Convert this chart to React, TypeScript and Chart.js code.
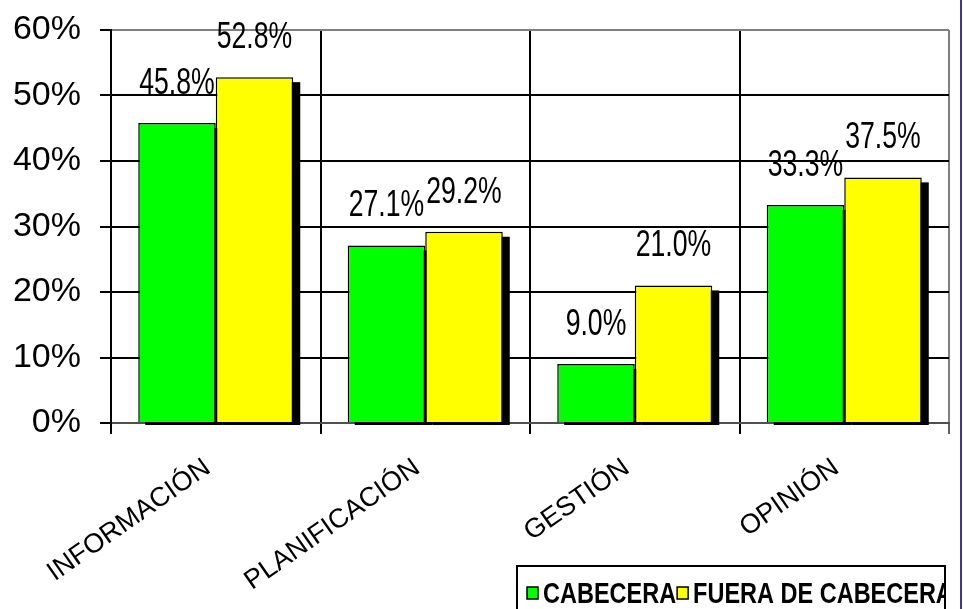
import React, { useEffect, useRef } from 'react';
import { Chart, registerables } from 'chart.js';

Chart.register(...registerables);

// ---- data ----
const categories = ['INFORMACIÓN', 'PLANIFICACIÓN', 'GESTIÓN', 'OPINIÓN'];
const seriesNames = ['CABECERA', 'FUERA DE CABECERA'];
const cabecera = [45.8, 27.1, 9.0, 33.3];
const fueraDeCabecera = [52.8, 29.2, 21.0, 37.5];
const yMin = 0;
const yMax = 60;
const yStep = 10;
const seriesColors = ['#00FF00', '#FFFF00'];

const shadowPlugin = {
  id: 'barShadow',
  beforeDatasetsDraw(chart: any) {
    const ctx = chart.ctx;
    ctx.save();
    ctx.fillStyle = '#000';
    chart.data.datasets.forEach((_ds: any, i: number) => {
      const meta = chart.getDatasetMeta(i);
      meta.data.forEach((bar: any) => {
        const p = bar.getProps(['x', 'y', 'base', 'width'], true);
        ctx.fillRect(p.x - p.width / 2 + 7, p.y + 5, p.width, p.base - p.y - 2);
      });
    });
    ctx.restore();
  },
};

const valueLabelPlugin = {
  id: 'valueLabels',
  afterDatasetsDraw(chart: any) {
    const ctx = chart.ctx;
    ctx.save();
    ctx.fillStyle = '#000';
    ctx.font = '37px "Liberation Sans", Arial, sans-serif';
    ctx.textAlign = 'center';
    ctx.textBaseline = 'alphabetic';
    chart.data.datasets.forEach((ds: any, i: number) => {
      const meta = chart.getDatasetMeta(i);
      meta.data.forEach((bar: any, j: number) => {
        const p = bar.getProps(['x', 'y'], true);
        ctx.save();
        ctx.translate(p.x, p.y - 29);
        ctx.scale(0.72, 1);
        ctx.fillText(Number(ds.data[j]).toFixed(1) + '%', 0, 0);
        ctx.restore();
      });
    });
    ctx.restore();
  },
};

const legendPlugin = {
  id: 'boxLegend',
  afterDraw(chart: any) {
    const ctx = chart.ctx;
    const left = 517;
    const top = 566;
    const right = 945;
    const bottom = 640;
    ctx.save();
    ctx.fillStyle = '#fff';
    ctx.fillRect(left, top, right - left, bottom - top);
    ctx.strokeStyle = '#000';
    ctx.lineWidth = 2;
    ctx.strokeRect(left, top, right - left, bottom - top);
    ctx.beginPath();
    ctx.rect(left + 1, top + 1, right - left - 2, bottom - top - 2);
    ctx.clip();
    ctx.font = 'bold 29px "Liberation Sans", Arial, sans-serif';
    ctx.textBaseline = 'alphabetic';
    ctx.textAlign = 'left';
    let x = 527;
    const sx = 0.81;
    chart.data.datasets.forEach((ds: any) => {
      ctx.fillStyle = ds.backgroundColor;
      ctx.fillRect(x, 587, 11, 12);
      ctx.strokeStyle = '#000';
      ctx.lineWidth = 1.5;
      ctx.strokeRect(x, 587, 11, 12);
      const tx = x + 16;
      ctx.save();
      ctx.translate(tx, 603);
      ctx.scale(sx, 1);
      ctx.fillStyle = '#000';
      ctx.fillText(ds.label, 0, 0);
      const w = ctx.measureText(ds.label).width * sx;
      ctx.restore();
      x = tx + w + 1;
    });
    ctx.restore();
    // right frame line
    ctx.save();
    ctx.fillStyle = '#3a3a96';
    ctx.fillRect(960, 0, 2, 609);
    ctx.restore();
  },
};

export default function App() {
  const canvasRef = useRef<HTMLCanvasElement | null>(null);

  useEffect(() => {
    if (!canvasRef.current) return;
    const chart = new Chart(canvasRef.current, {
      type: 'bar',
      data: {
        labels: categories,
        datasets: [
          {
            label: seriesNames[0],
            data: cabecera,
            backgroundColor: seriesColors[0],
            borderColor: '#000',
            borderWidth: 1.5,
            categoryPercentage: 0.74,
            barPercentage: 1.0,
          },
          {
            label: seriesNames[1],
            data: fueraDeCabecera,
            backgroundColor: seriesColors[1],
            borderColor: '#000',
            borderWidth: 1.5,
            categoryPercentage: 0.74,
            barPercentage: 1.0,
          },
        ],
      },
      options: {
        animation: false,
        responsive: false,
        devicePixelRatio: 1,
        layout: { padding: { top: 30, right: 14, left: 0, bottom: 0 } },
        plugins: {
          legend: { display: false },
          tooltip: { enabled: false },
        },
        scales: {
          x: {
            afterFit(scale: any) {
              scale.height = 186;
            },
            grid: {
              offset: true,
              lineWidth: 2,
              color: (c: any) => (c.index === undefined ? '#808080' : '#000'),
              tickColor: (c: any) => (c.index === undefined ? '#606060' : '#000'),
              tickLength: 11,
            },
            border: { display: true, color: '#505050', width: 2 },
            ticks: {
              minRotation: 35,
              maxRotation: 35,
              autoSkip: false,
              padding: 18,
              labelOffset: -8,
              color: '#000',
              font: { family: '"Liberation Sans", Arial, sans-serif', size: 27 },
            },
          },
          y: {
            min: yMin,
            max: yMax,
            afterFit(scale: any) {
              scale.width = 111;
              scale.paddingTop = 0;
              scale.paddingBottom = 0;
            },
            grid: {
              lineWidth: 2,
              color: (c: any) =>
                c.tick && c.tick.value === yMax ? '#808080' : c.tick && c.tick.value === 0 ? '#505050' : '#000',
              tickColor: '#000',
              tickLength: 11,
            },
            border: { display: true, color: '#000', width: 2 },
            ticks: {
              stepSize: yStep,
              padding: 19,
              color: '#000',
              font: { family: '"Liberation Sans", Arial, sans-serif', size: 34 },
              callback: (v: any) => v + '%',
            },
          },
        },
      },
      plugins: [shadowPlugin, valueLabelPlugin, legendPlugin],
    });
    return () => chart.destroy();
  }, []);

  return (
    <div style={{ position: 'absolute', left: 0, top: 0, width: 963, height: 609, background: '#fff' }}>
      <canvas ref={canvasRef} width={963} height={609} style={{ display: 'block' }} />
    </div>
  );
}
